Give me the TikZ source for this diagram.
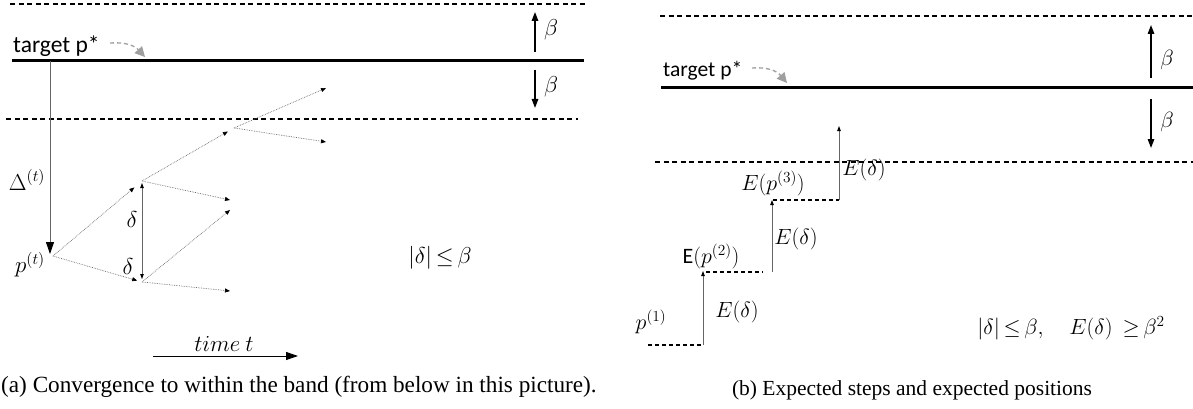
\RequirePackage{fix-cm}
\documentclass[tikz,border=0pt]{standalone}
\usepackage{fontspec}
\setmainfont{Carlito}
\newfontfamily\capfont{Liberation Serif}
\usetikzlibrary{arrows.meta}
\begin{document}
\begin{tikzpicture}[x=1pt,y=-1pt,
  bandline/.style={line width=1.2pt, dash pattern=on 5pt off 3.5pt},
  targetline/.style={line width=3pt},
  lblA/.style={font=\fontsize{23.5}{27}\selectfont, inner sep=0pt},
  lblB/.style={font=\fontsize{21.5}{25}\selectfont, inner sep=0pt},
  mlblA/.style={font=\fontsize{23}{27}\selectfont, inner sep=0pt},
  mlblB/.style={font=\fontsize{22}{26}\selectfont, inner sep=0pt},
  caplblA/.style={font=\capfont\fontsize{23.2}{28}\selectfont, inner sep=0pt},
  caplblB/.style={font=\capfont\fontsize{21.5}{25}\selectfont, inner sep=0pt},
  hint/.style={gray!75, line width=1.3pt, dash pattern=on 4pt off 3pt, -{Triangle[length=10pt,width=10pt]}},
  betaarr/.style={line width=1.4pt, -{Triangle[length=9pt,width=6.5pt]}},
  bigarr/.style={gray!80!black, line width=0.9pt, -{Triangle[length=12pt,width=8pt,black]}},
  timearr/.style={line width=0.9pt, -{Triangle[length=12pt,width=8pt]}},
  walk/.style={gray!85!black, line width=0.7pt, densely dotted, -{Triangle[length=5pt,width=4pt,black]}},
  stepline/.style={gray!80!black, line width=0.8pt, -{Triangle[length=5pt,width=3.5pt,black]}},
  stair/.style={line width=1.2pt, dash pattern=on 4pt off 3pt},
]
\useasboundingbox (0,0) rectangle (1193,409);

% ---------------- left panel ----------------
\coordinate (aT0) at (10,4);   \coordinate (aT1) at (585,4);
\coordinate (aS0) at (12,61);  \coordinate (aS1) at (584,61);
\coordinate (aB0) at (6,119);  \coordinate (aB1) at (578,119);
\draw[bandline] (aT0) -- (aT1);
\draw[targetline] (aS0) -- (aS1);
\draw[bandline] (aB0) -- (aB1);

\node[lblA, anchor=base west] (tgtA) at (13,53) {target p*};
\coordinate (hA0) at (110,43); \coordinate (hA1) at (145,57);
\draw[hint] (hA0) .. controls (124,42) and (134,45) .. (hA1);

\coordinate (bA0) at (535,52); \coordinate (bA1) at (535,12);
\coordinate (bA2) at (535,70); \coordinate (bA3) at (535,108);
\draw[betaarr] (bA0) -- (bA1);
\draw[betaarr] (bA2) -- (bA3);
\node[mlblA] (betaA1) at (551,30) {$\beta$};
\node[mlblA] (betaA2) at (551,87) {$\beta$};

\coordinate (D0) at (50,61);
\coordinate (P) at (50,254);
\draw[bigarr] (D0) -- (P);
\node[mlblA] (Dlab) at (27,180) {$\Delta^{(t)}$};
\node[mlblA] (plab) at (30,265) {$p^{(t)}$};

\coordinate (Ps) at (53,256);
\coordinate (U) at (142,181);
\coordinate (L) at (142,282);
\coordinate (UU) at (234,128);
\coordinate (e1) at (230,200);
\coordinate (e2) at (230,210);
\coordinate (e3) at (230,291);
\coordinate (e4) at (326,88);
\coordinate (e5) at (326,142);
\draw[walk, shorten >=10pt] (Ps) -- (U);
\draw[walk, shorten >=5pt] (Ps) -- (L);
\draw[walk] (U) -- (e1);
\draw[walk, shorten >=7pt] (U) -- (UU);
\draw[walk] (L) -- (e2);
\draw[walk] (L) -- (e3);
\draw[walk] (UU) -- (e4);
\draw[walk] (UU) -- (e5);
\coordinate (dU) at (142,183); \coordinate (dL) at (142,279);
\draw[stepline, {Triangle[length=5pt,width=3.5pt,black]}-{Triangle[length=5pt,width=3.5pt,black]}] (dU) -- (dL);
\node[mlblA] (d1) at (132,220) {$\delta$};
\node[mlblA] (d2) at (128,267) {$\delta$};

\node[mlblA] (condA) at (440,258) {$|\delta|\,{\le}\,\beta$};

\node[mlblA] (timel) at (224,344) {$time\ t$};
\coordinate (t0) at (153,356); \coordinate (t1) at (298,356);
\draw[timearr] (t0) -- (t1);

\node[caplblA, anchor=west] (capA) at (1,387) {(a) Convergence to within the band (from below in this picture).};

% ---------------- right panel ----------------
\coordinate (bT0) at (660,16);  \coordinate (bT1) at (1193,16);
\coordinate (bS0) at (661,88);  \coordinate (bS1) at (1193,88);
\coordinate (bB0) at (655,162); \coordinate (bB1) at (1193,162);
\draw[bandline] (bT0) -- (bT1);
\draw[targetline] (bS0) -- (bS1);
\draw[bandline] (bB0) -- (bB1);

\node[lblB, anchor=base west] (tgtB) at (663,77) {target p*};
\coordinate (hB0) at (752,68); \coordinate (hB1) at (787,83);
\draw[hint] (hB0) .. controls (766,67) and (776,70) .. (hB1);

\coordinate (cB0) at (1151,78); \coordinate (cB1) at (1151,25);
\coordinate (cB2) at (1151,99); \coordinate (cB3) at (1151,148);
\draw[betaarr] (cB0) -- (cB1);
\draw[betaarr] (cB2) -- (cB3);
\node[mlblB] (betaB1) at (1167,60) {$\beta$};
\node[mlblB] (betaB2) at (1167,122) {$\beta$};

\coordinate (s0) at (648,345); \coordinate (s1) at (703,345);
\coordinate (s1t) at (703,271);
\coordinate (s2a) at (706,272); \coordinate (s2b) at (763,272);
\coordinate (s2) at (772,272); \coordinate (s2t) at (772,200);
\coordinate (s3a) at (773,200); \coordinate (s3b) at (839,200);
\coordinate (s3) at (839,200); \coordinate (s3t) at (839,126);
\draw[stair] (s0) -- (s1);
\draw[stepline] (s1) -- (s1t);
\draw[stair] (s2a) -- (s2b);
\draw[stepline] (s2) -- (s2t);
\draw[stair] (s3a) -- (s3b);
\draw[stepline] (s3) -- (s3t);

\node[mlblB] (p1) at (651,322) {$p^{(1)}$};
\node[mlblB] (Ed1) at (737,312) {$E(\delta)$};
\node[mlblB] (Ep2) at (711,256) {E$(p^{(2)})$};
\node[mlblB] (Ed2) at (796,239) {$E(\delta)$};
\node[mlblB] (Ep3) at (773,183) {$E(p^{(3)})$};
\node[mlblB] (Ed3) at (864,170) {$E(\delta)$};

\node[mlblB] (condB) at (1071,328) {$|\delta|\,{\le}\,\beta,\quad E(\delta)\ \ {\ge}\,\beta^{2}$};

\node[caplblB] (capB) at (912,390) {(b) Expected steps and expected positions};
\end{tikzpicture}
\end{document}
